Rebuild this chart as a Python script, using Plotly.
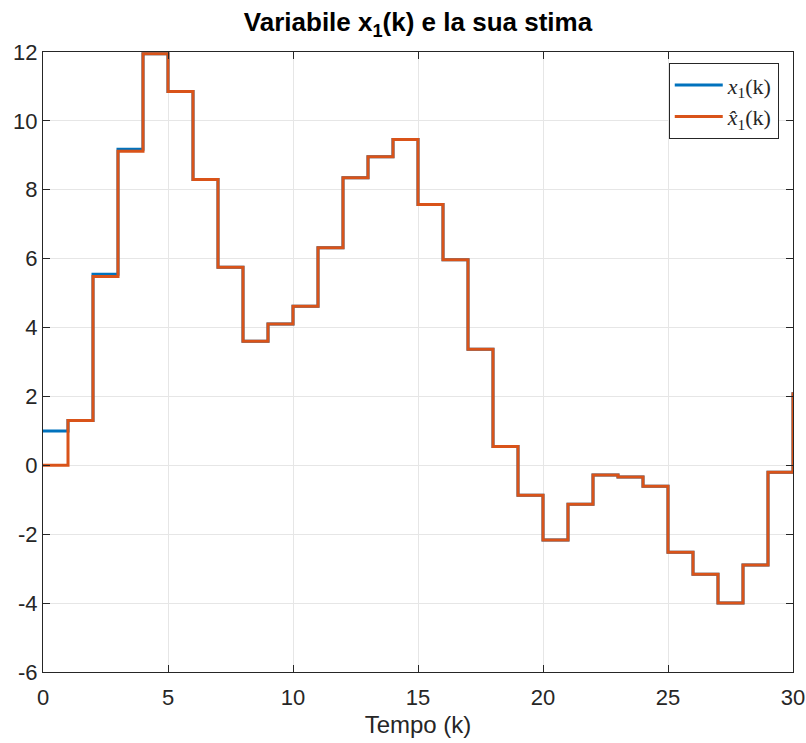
import plotly.graph_objects as go

k = list(range(31))
x1 = [1.0, 1.3, 5.55, 9.18, 11.95, 10.85, 8.3, 5.75, 3.6, 4.1, 4.62, 6.32, 8.35, 8.96, 9.46,
      7.57, 5.97, 3.37, 0.545, -0.87, -2.17, -1.13, -0.28, -0.34, -0.61, -2.52, -3.16, -4.0,
      -2.89, -0.2, 2.12]
x1_hat = [0.0, 1.3, 5.48, 9.12, 11.95, 10.85, 8.3, 5.75, 3.6, 4.1, 4.62, 6.32, 8.35, 8.96, 9.46,
          7.57, 5.97, 3.37, 0.545, -0.87, -2.17, -1.13, -0.28, -0.34, -0.61, -2.52, -3.16, -4.0,
          -2.89, -0.2, 2.12]

xticks = [0, 5, 10, 15, 20, 25, 30]
yticks = [-6, -4, -2, 0, 2, 4, 6, 8, 10, 12]

fig = go.Figure()
fig.add_trace(go.Scatter(x=k, y=x1, mode="lines", line=dict(shape="hv", color="#0072BD", width=3),
                         name="<i>x</i><sub>1</sub>(k)"))
fig.add_trace(go.Scatter(x=k, y=x1_hat, mode="lines", line=dict(shape="hv", color="#D95319", width=3),
                         name="<i>x̂</i><sub>1</sub>(k)"))

axis_common = dict(
    showline=True, linecolor="#262626", linewidth=1, mirror="ticks",
    ticks="inside", ticklen=7, tickcolor="#262626", tickwidth=1,
    showgrid=True, gridcolor="#e6e6e6", gridwidth=1, zeroline=False,
    automargin=False,
    tickfont=dict(family="Liberation Sans, Arial", size=22, color="#262626"),
)

fig.update_layout(
    width=806, height=743,
    margin=dict(l=43, r=13, t=52, b=71),
    paper_bgcolor="white", plot_bgcolor="white",
    title=dict(text="<b>Variabile x<sub>1</sub>(k) e la sua stima</b>",
               x=0.5, xref="paper", xanchor="center",
               y=0.970, yref="container", yanchor="middle",
               font=dict(family="Liberation Sans, Arial", size=26, color="black")),
    xaxis=dict(range=[0, 30], tickvals=xticks, ticktext=[str(v) for v in xticks],
               ticklabelstandoff=6,
               title=dict(text="Tempo (k)", standoff=6,
                          font=dict(family="Liberation Sans, Arial", size=24, color="#262626")),
               **axis_common),
    yaxis=dict(range=[-6, 12], tickvals=yticks, ticktext=[str(v) for v in yticks], **axis_common),
    legend=dict(x=0.981, y=0.982, xanchor="right", yanchor="top",
                bgcolor="white", bordercolor="#262626", borderwidth=1,
                itemwidth=48,
                font=dict(family="Liberation Serif, DejaVu Serif", size=22, color="#262626"),
                tracegroupgap=0),
    showlegend=True,
)

fig.write_html("out.html")
